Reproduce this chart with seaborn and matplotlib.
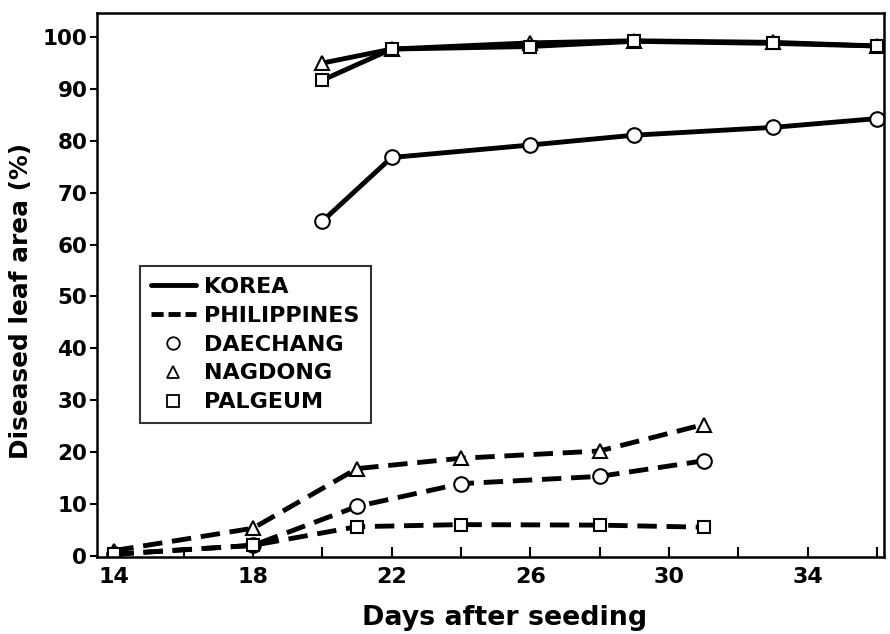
import pandas as pd
import seaborn as sns
import matplotlib.pyplot as plt
from matplotlib.lines import Line2D

# days of observation
days_korea = [20, 22, 26, 29, 33, 36]
days_phil = [14, 18, 21, 24, 28, 31]

# diseased leaf area (%)
korea_daechang = [64.5, 76.8, 79.2, 81.1, 82.6, 84.3]
korea_nagdong = [95.0, 97.7, 98.9, 99.3, 99.0, 98.3]
korea_palgeum = [91.7, 97.7, 98.2, 99.2, 98.8, 98.3]

phil_daechang = [0.3, 2.0, 9.5, 13.9, 15.3, 18.3]
phil_nagdong = [1.0, 5.3, 16.8, 18.8, 20.2, 25.3]
phil_palgeum = [0.3, 2.0, 5.6, 6.0, 5.9, 5.5]

rows = []
for country, days, series in [
    ("KOREA", days_korea, {"DAECHANG": korea_daechang, "NAGDONG": korea_nagdong, "PALGEUM": korea_palgeum}),
    ("PHILIPPINES", days_phil, {"DAECHANG": phil_daechang, "NAGDONG": phil_nagdong, "PALGEUM": phil_palgeum}),
]:
    for cultivar, vals in series.items():
        for d, v in zip(days, vals):
            rows.append({"day": d, "area": v, "country": country, "cultivar": cultivar})
df = pd.DataFrame(rows)

sns.set_style("ticks")
plt.rcParams["font.family"] = ["DejaVu Sans"]
plt.rcParams["font.weight"] = "bold"
for k in ["text.color", "axes.labelcolor", "xtick.color", "ytick.color", "axes.edgecolor"]:
    plt.rcParams[k] = "black"

fig = plt.figure(figsize=(8.9, 6.34), dpi=100)
ax = fig.add_axes([0.109, 0.121, 0.884, 0.858])

markers = {"DAECHANG": "o", "NAGDONG": "^", "PALGEUM": "s"}
msizes = {"DAECHANG": 10.5, "NAGDONG": 9.5, "PALGEUM": 9}
styles = {"KOREA": "-", "PHILIPPINES": (0, (4, 2))}

for (country, cultivar), sub in df.groupby(["country", "cultivar"]):
    sns.lineplot(data=sub, x="day", y="area", ax=ax, color="black",
                 linewidth=3.5, linestyle=styles[country],
                 marker=markers[cultivar], markersize=msizes[cultivar],
                 markerfacecolor="white", markeredgecolor="black",
                 markeredgewidth=1.5, legend=False)

ax.set_xlim(13.5, 36.2)
ax.set_ylim(-0.3, 104.6)
ax.set_xticks(range(14, 37, 2))
ax.set_xticklabels(["14", "", "18", "", "22", "", "26", "", "30", "", "34", ""])
ax.set_yticks(range(0, 101, 10))
ax.tick_params(axis="x", direction="in", length=7, width=1.5, labelsize=16, pad=7)
ax.tick_params(axis="y", direction="out", length=5, width=1.5, labelsize=15.5, pad=2)
for lab in ax.get_xticklabels() + ax.get_yticklabels():
    lab.set_fontweight("bold")
for sp in ax.spines.values():
    sp.set_linewidth(1.8)

ax.set_xlabel("Days after seeding", fontsize=19.4, fontweight="bold")
ax.xaxis.set_label_coords(0.518, -0.087)
ax.set_ylabel("Diseased leaf area (%)", fontsize=17.8, fontweight="bold")
ax.yaxis.set_label_coords(-0.081, 0.472)

handles = [
    Line2D([], [], color="black", lw=3.5, linestyle="-"),
    Line2D([], [], color="black", lw=3.5, linestyle=(0, (2.5, 1))),
    Line2D([], [], color="black", lw=0, marker="o", markersize=9, markerfacecolor="white", markeredgewidth=1.3),
    Line2D([], [], color="black", lw=0, marker="^", markersize=8, markerfacecolor="white", markeredgewidth=1.3),
    Line2D([], [], color="black", lw=0, marker="s", markersize=8, markerfacecolor="white", markeredgewidth=1.3),
]
labels = ["KOREA", "PHILIPPINES", "DAECHANG", "NAGDONG", "PALGEUM"]
leg = ax.legend(handles, labels, loc="lower left", bbox_to_anchor=(0.0546, 0.246),
                frameon=True, fancybox=False, handlelength=2.0,
                handletextpad=0.4, labelspacing=0.4, borderpad=0.5,
                borderaxespad=0, prop={"weight": "bold", "size": 16})
leg.get_frame().set_edgecolor("black")
leg.get_frame().set_linewidth(1.5)

plt.savefig("out.png", dpi=100)
